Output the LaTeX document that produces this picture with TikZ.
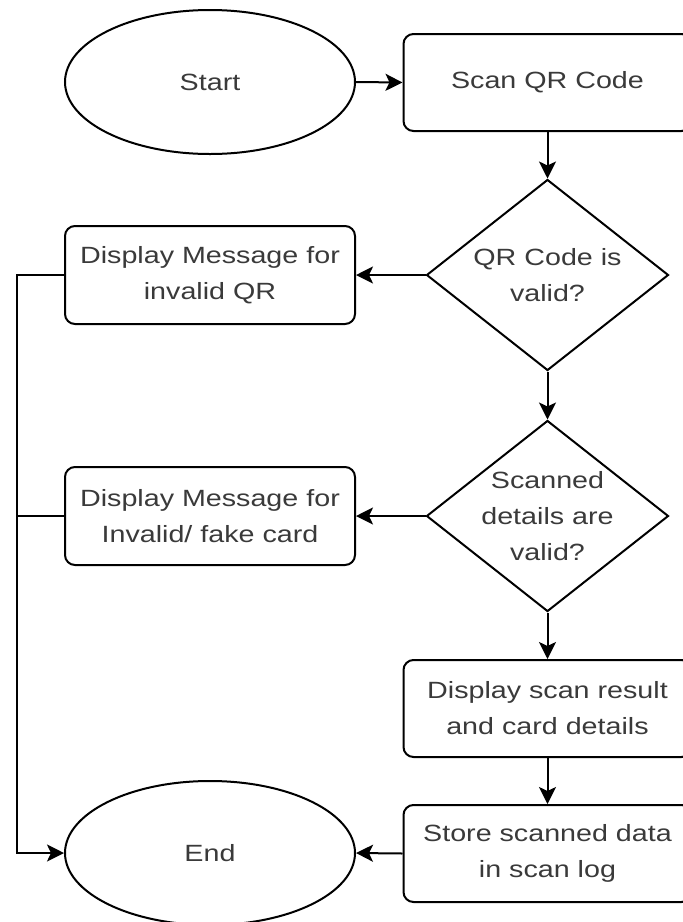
\documentclass[tikz,border=0pt]{standalone}
\usepackage{fontspec}
\newfontfamily\dfont[FakeStretch=1.22]{Liberation Sans}
\usetikzlibrary{shapes.geometric,arrows.meta}
\definecolor{txt}{HTML}{3A3A3A}
\tikzset{
  base/.style={draw=black, line width=2pt, fill=white, inner sep=0pt},
  txtstyle/.style={text=txt, align=center, font={\dfont\fontsize{23.5}{36}\selectfont}},
  procbox/.style={base, txtstyle, rectangle, rounded corners=10pt, minimum width=288pt, minimum height=97pt},
  leftbox/.style={base, txtstyle, rectangle, rounded corners=10pt, minimum width=290pt, minimum height=98pt},
  term/.style={base, txtstyle, ellipse, minimum width=290pt, minimum height=144pt},
  decide/.style={base, diamond, minimum width=242pt, minimum height=191pt},
  conn/.style={line width=2pt, draw=black},
  arr/.style={conn, -{Stealth[length=17pt, width=17pt, inset=4pt]}}
}
\begin{document}
\begin{tikzpicture}[x=1pt, y=-1pt]
\clip (0,0) rectangle (683,922);
\fill[white] (0,0) rectangle (683,922);
\node[term] (start) at (210,82) {Start};
\node[procbox] (scan) at (547.5,82.5) {Scan QR Code};
\node[decide, label={[txtstyle]center:{QR Code is\\valid?}}] (d1) at (547.5,275) {};
\node[leftbox] (msg1) at (210,275) {Display Message for\\invalid QR};
\node[decide, label={[txtstyle]center:{Scanned\\details are\\valid?}}] (d2) at (547.5,516) {};
\node[leftbox] (msg2) at (210,516) {Display Message for\\Invalid/ fake card};
\node[procbox] (res) at (547.5,708.5) {Display scan result\\and card details};
\node[procbox] (store) at (547.5,853.5) {Store scanned data\\in scan log};
\node[term] (end) at (210,853) {End};
\coordinate (trunk) at (17,275);
\draw[arr] (start.east) -- (scan.west);
\draw[arr] (scan.south) -- (d1.north);
\draw[arr] (d1.west) -- (msg1.east);
\draw[arr] (d1.south) -- (d2.north);
\draw[arr] (d2.west) -- (msg2.east);
\draw[arr] (d2.south) -- (res.north);
\draw[arr] (res.south) -- (store.north);
\draw[arr] (store.west) -- (end.east);
\draw[arr] (msg1.west) -- (trunk) |- (end.west);
\draw[conn] (msg2.west) -- (msg2.west -| trunk);
\end{tikzpicture}
\end{document}
